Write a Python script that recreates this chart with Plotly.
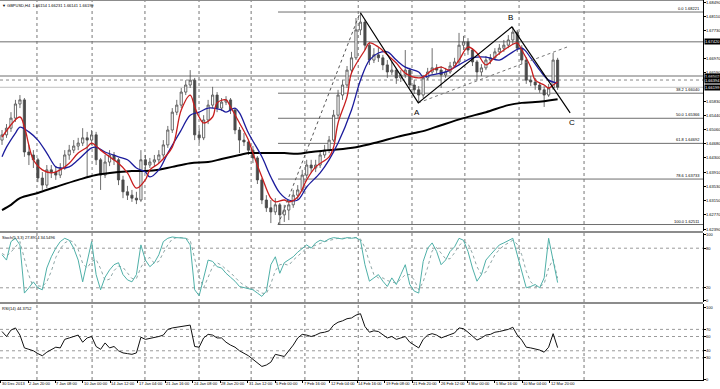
import plotly.graph_objects as go

# ---------------- data ----------------
opens = [1.6478,1.6492,1.6510,1.6537,1.6575,1.6586,1.6446,1.6438,1.6425,1.6376,
         1.6357,1.6398,1.6392,1.6384,1.6403,1.6438,1.6451,1.6462,1.6470,1.6484,
         1.6478,1.6492,1.6425,1.6384,1.6419,1.6438,1.6425,1.6371,1.6339,1.6330,
         1.6322,1.6317,1.6425,1.6411,1.6419,1.6425,1.6438,1.6465,1.6505,1.6553,
         1.6572,1.6607,1.6626,1.6639,1.6492,1.6484,1.6532,1.6572,1.6599,1.6564,
         1.6580,1.6586,1.6559,1.6505,1.6478,1.6473,1.6451,1.6430,1.6371,1.6317,
         1.6296,1.6285,1.6304,1.6277,1.6290,1.6304,1.6330,1.6344,1.6384,1.6411,
         1.6403,1.6411,1.6438,1.6451,1.6478,1.6545,1.6599,1.6626,1.6666,1.6699,
         1.6774,1.6795,1.6733,1.6693,1.6707,1.6699,1.6680,1.6661,1.6666,1.6645,
         1.6653,1.6666,1.6626,1.6613,1.6599,1.6645,1.6661,1.6672,1.6666,1.6653,
         1.6661,1.6677,1.6688,1.6733,1.6742,1.6720,1.6688,1.6661,1.6672,1.6693,
         1.6699,1.6715,1.6725,1.6733,1.6747,1.6768,1.6725,1.6693,1.6639,1.6634,
         1.6626,1.6613,1.6599,1.6618,1.6693]
highs = [1.6505,1.6521,1.6553,1.6586,1.6599,1.6591,1.6465,1.6451,1.6430,1.6392,
         1.6411,1.6411,1.6408,1.6416,1.6451,1.6465,1.6478,1.6484,1.6510,1.6500,
         1.6505,1.6500,1.6430,1.6438,1.6451,1.6446,1.6430,1.6382,1.6355,1.6344,
         1.6339,1.6451,1.6438,1.6430,1.6438,1.6451,1.6478,1.6516,1.6564,1.6586,
         1.6618,1.6639,1.6666,1.6645,1.6510,1.6545,1.6586,1.6621,1.6607,1.6591,
         1.6596,1.6591,1.6564,1.6513,1.6497,1.6478,1.6462,1.6435,1.6376,1.6330,
         1.6317,1.6322,1.6309,1.6304,1.6317,1.6344,1.6357,1.6398,1.6425,1.6425,
         1.6425,1.6451,1.6465,1.6489,1.6559,1.6613,1.6639,1.6677,1.6715,1.6806,
         1.6820,1.6801,1.6742,1.6725,1.6728,1.6707,1.6693,1.6688,1.6672,1.6666,
         1.6720,1.6672,1.6639,1.6623,1.6653,1.6672,1.6725,1.6682,1.6677,1.6672,
         1.6688,1.6699,1.6766,1.6758,1.6752,1.6725,1.6693,1.6682,1.6704,1.6709,
         1.6725,1.6736,1.6747,1.6760,1.6782,1.6774,1.6733,1.6701,1.6650,1.6645,
         1.6634,1.6623,1.6629,1.6712,1.6699]
lows = [1.6465,1.6484,1.6500,1.6527,1.6564,1.6433,1.6411,1.6403,1.6365,1.6344,
        1.6349,1.6376,1.6371,1.6376,1.6398,1.6425,1.6443,1.6451,1.6462,1.6379,
        1.6465,1.6411,1.6344,1.6376,1.6408,1.6411,1.6357,1.6322,1.6317,1.6312,
        1.6306,1.6312,1.6398,1.6403,1.6408,1.6416,1.6430,1.6457,1.6497,1.6545,
        1.6564,1.6599,1.6618,1.6478,1.6470,1.6478,1.6521,1.6564,1.6553,1.6556,
        1.6572,1.6548,1.6494,1.6443,1.6462,1.6438,1.6416,1.6360,1.6306,1.6285,
        1.6255,1.6277,1.6250,1.6258,1.6263,1.6296,1.6317,1.6339,1.6376,1.6390,
        1.6392,1.6403,1.6430,1.6443,1.6473,1.6537,1.6586,1.6618,1.6658,1.6693,
        1.6760,1.6720,1.6680,1.6685,1.6688,1.6666,1.6645,1.6653,1.6629,1.6634,
        1.6645,1.6618,1.6602,1.6578,1.6591,1.6639,1.6653,1.6656,1.6618,1.6645,
        1.6656,1.6672,1.6682,1.6720,1.6707,1.6677,1.6639,1.6650,1.6666,1.6682,
        1.6693,1.6707,1.6715,1.6725,1.6736,1.6715,1.6682,1.6629,1.6623,1.6613,
        1.6605,1.6567,1.6594,1.6613,1.6613]
closes = [1.6492,1.6510,1.6537,1.6575,1.6586,1.6446,1.6438,1.6425,1.6376,1.6357,
          1.6398,1.6392,1.6384,1.6403,1.6438,1.6451,1.6462,1.6470,1.6484,1.6478,
          1.6492,1.6425,1.6384,1.6419,1.6438,1.6425,1.6371,1.6339,1.6330,1.6322,
          1.6317,1.6425,1.6411,1.6419,1.6425,1.6438,1.6465,1.6505,1.6553,1.6572,
          1.6607,1.6626,1.6639,1.6492,1.6484,1.6532,1.6572,1.6599,1.6564,1.6580,
          1.6586,1.6559,1.6505,1.6478,1.6473,1.6451,1.6430,1.6371,1.6317,1.6296,
          1.6285,1.6304,1.6277,1.6290,1.6304,1.6330,1.6344,1.6384,1.6411,1.6403,
          1.6411,1.6438,1.6451,1.6478,1.6545,1.6599,1.6626,1.6666,1.6699,1.6774,
          1.6795,1.6733,1.6693,1.6707,1.6699,1.6680,1.6661,1.6666,1.6645,1.6653,
          1.6666,1.6626,1.6613,1.6599,1.6645,1.6661,1.6672,1.6666,1.6653,1.6661,
          1.6677,1.6688,1.6733,1.6742,1.6720,1.6688,1.6661,1.6672,1.6693,1.6699,
          1.6715,1.6725,1.6733,1.6747,1.6768,1.6725,1.6693,1.6639,1.6634,1.6626,
          1.6613,1.6599,1.6618,1.6693,1.66199]
bars = list(range(len(closes)))

ma_fast_x = [0,4,5,7,9,11,13,15,17,19,20,22,24,26,28,30,32,33,35,38,40,42,43,44,45,47,48,50,51,53,55,56,58,60,61,63,64,66,68,70,73,74,75,77,78,81,82,84,86,88,90,93,94,96,98,100,102,104,106,108,110,113,115,116,118,119,121,122,123,124]
ma_fast = [1.6486,1.6540,1.6513,1.6425,1.6398,1.6390,1.6398,1.6416,1.6443,1.6459,1.6470,1.6451,1.6433,1.6416,1.6390,1.6349,1.6371,1.6398,1.6416,1.6459,1.6559,1.6599,1.6567,1.6540,1.6524,1.6540,1.6578,1.6586,1.6567,1.6524,1.6478,1.6443,1.6379,1.6322,1.6312,1.6317,1.6312,1.6325,1.6371,1.6406,1.6433,1.6459,1.6524,1.6594,1.6658,1.6720,1.6739,1.6728,1.6707,1.6685,1.6658,1.6645,1.6648,1.6666,1.6674,1.6666,1.6693,1.6728,1.6712,1.6680,1.6701,1.6728,1.6739,1.6720,1.6674,1.6639,1.6626,1.6618,1.6626,1.6634]
ma_mid_x = [0,1,3,4,6,8,10,12,13,15,17,20,21,23,26,28,30,32,33,35,37,40,42,44,46,49,50,52,53,55,58,60,62,64,66,68,71,73,75,78,80,82,84,86,88,90,93,94,96,99,102,105,108,111,113,116,118,120,122,124]
ma_mid = [1.6433,1.6459,1.6497,1.6513,1.6500,1.6478,1.6443,1.6406,1.6403,1.6406,1.6425,1.6457,1.6459,1.6446,1.6433,1.6425,1.6403,1.6392,1.6379,1.6398,1.6443,1.6505,1.6545,1.6553,1.6564,1.6559,1.6553,1.6564,1.6551,1.6497,1.6433,1.6379,1.6336,1.6317,1.6317,1.6352,1.6390,1.6425,1.6470,1.6559,1.6639,1.6693,1.6712,1.6715,1.6693,1.6674,1.6661,1.6648,1.6653,1.6661,1.6680,1.6699,1.6701,1.6693,1.6707,1.6725,1.6699,1.6666,1.6639,1.6631]
ma_slow_x = [0,2,4,8,12,17,21,26,29,32,35,38,42,46,49,53,55,58,60,63,66,69,73,79,84,88,92,94,98,103,108,113,116,119,124]
ma_slow = [1.6290,1.6304,1.6322,1.6336,1.6352,1.6371,1.6384,1.6392,1.6395,1.6395,1.6398,1.6406,1.6416,1.6419,1.6427,1.6438,1.6443,1.6443,1.6443,1.6443,1.6441,1.6446,1.6451,1.6459,1.6473,1.6486,1.6497,1.6502,1.6518,1.6537,1.6553,1.6572,1.6578,1.6580,1.6588]

stoch_main = [70,62,90,95,85,12,20,29,20,17,50,67,80,90,95,92,80,62,29,60,
              90,40,17,36,47,55,58,40,32,29,40,85,62,52,58,70,90,95,97,96,
              95,95,85,17,8,35,62,60,52,50,42,36,30,22,20,18,17,12,7,15,
              55,67,42,58,62,67,74,80,85,80,88,92,90,94,96,95,94,96,95,96,
              92,55,30,35,40,30,22,35,25,40,55,25,15,12,60,80,88,75,55,62,
              75,82,95,92,75,50,30,40,62,70,78,85,88,92,95,70,45,20,22,25,
              20,35,95,60,27.8914]
stoch_signal = [72,68,74,82,90,64,39,20,23,22,29,45,66,79,88,92,89,78,57,50,
                60,63,49,31,33,46,53,51,43,34,34,51,62,66,57,60,73,85,94,96,
                96,95,92,66,37,20,35,52,58,54,48,43,36,29,24,20,18,16,12,11,
                26,46,55,56,54,62,68,74,80,82,84,87,90,92,93,95,95,95,95,96,
                94,81,59,40,35,35,31,29,27,33,40,40,32,17,29,51,76,81,73,64,
                64,73,84,90,87,72,52,40,44,57,70,78,84,88,92,86,70,45,29,22,
                22,26,50,63,34.5496]
rsi = [67,60,69,72,62,44,42,40,36,33,38,42,45,44,56,58,60,62,52,58,
       60,46,42,51,44,46,40,37,36,35,37,59,56,57,58,60,62,70,72,73,
       74,75,76,46,45,58,63,62,58,58,52,48,45,40,37,33,28,23,18,20,
       24,35,33,32,40,48,58,63,62,60,62,65,66,68,76,80,82,85,86,90,
       92,74,66,68,67,62,58,60,56,58,60,52,48,44,56,62,64,62,58,60,
       63,65,72,71,66,60,55,58,62,63,66,67,68,70,73,62,55,45,44,43,
       41,38,45,64,44.3752]

price_ticks = [1.68490,1.68110,1.67730,1.66970,1.66590,1.65830,1.65440,
               1.65060,1.64680,1.64300,1.63910,1.63530,1.63150,1.62770,1.62390]
stoch_ticks = [100, 80, 20, 0]
rsi_ticks = [100, 70, 60, 40, 30, 0]
time_labels = ["30 Dec 2013","2 Jan 20:00","7 Jan 08:00","10 Jan 00:00","14 Jan 12:00",
               "17 Jan 04:00","21 Jan 16:00","24 Jan 08:00","28 Jan 20:00","31 Jan 12:00",
               "5 Feb 00:00","7 Feb 16:00","12 Feb 04:00","14 Feb 16:00","19 Feb 08:00",
               "21 Feb 20:00","26 Feb 12:00","3 Mar 00:00","5 Mar 16:00","10 Mar 04:00",
               "12 Mar 20:00"]
time_label_bars = [-0.33, 5.80, 11.92, 18.05, 24.18, 30.30, 36.43, 42.56, 48.69, 54.81,
                   60.94, 67.07, 73.19, 79.32, 85.45, 91.57, 97.70, 103.83, 109.96, 116.08,
                   122.21]
grid_bars = [7.8, 20.1, 31.9, 43.97, 55.6, 67.6, 79.5, 91.5, 103.3, 115.4, 129.9]

fib_names = ["0.0","38.2","50.0","61.8","78.6","100.0"]
fib_prices = [1.68221,1.66040,1.65366,1.64692,1.63733,1.62511]
fib_start_bar = 61.6
hline_solid = [1.67420, 1.66502]
hline_dotted = [1.66394]
bid_price = 1.66199

zz_bars = [80, 92.9, 113.8, 126.8]
zz_prices = [1.6820, 1.6578, 1.6782, 1.6551]
zz_names = ["", "A", "B", "C"]
chan_bars = [92.9, 126.1]
chan_prices = [1.6578, 1.6728]
fibdiag_bars = [61.6, 79.9]
fibdiag_prices = [1.6250, 1.6820]

stoch_levels = [80, 20]
rsi_levels = [70, 60, 40, 30]

# ---------------- figure ----------------
FONT = "Liberation Sans"
FS = 4
fig = go.Figure()

fig.add_trace(go.Candlestick(
    x=bars, open=opens, high=highs, low=lows, close=closes,
    increasing=dict(line=dict(color="#4a4a4a", width=0.8), fillcolor="#ffffff"),
    decreasing=dict(line=dict(color="#4a4a4a", width=0.8), fillcolor="#4a4a4a"),
    whiskerwidth=0, xaxis="x", yaxis="y", showlegend=False, hoverinfo="skip"))

fig.add_trace(go.Scatter(x=ma_slow_x, y=ma_slow, mode="lines", line=dict(color="#000000", width=2, shape="spline"),
                         xaxis="x", yaxis="y", showlegend=False))
fig.add_trace(go.Scatter(x=ma_mid_x, y=ma_mid, mode="lines", line=dict(color="#1c1c9c", width=1.3, shape="spline"),
                         xaxis="x", yaxis="y", showlegend=False))
fig.add_trace(go.Scatter(x=ma_fast_x, y=ma_fast, mode="lines", line=dict(color="#c81e1e", width=1.3, shape="spline"),
                         xaxis="x", yaxis="y", showlegend=False))

fig.add_trace(go.Scatter(x=fibdiag_bars, y=fibdiag_prices, mode="lines", line=dict(color="#555555", width=1, dash="dot"),
                         xaxis="x", yaxis="y", showlegend=False))
fig.add_trace(go.Scatter(x=chan_bars, y=chan_prices, mode="lines", line=dict(color="#777777", width=1, dash="dot"),
                         xaxis="x", yaxis="y", showlegend=False))
fig.add_trace(go.Scatter(x=zz_bars, y=zz_prices, mode="lines", line=dict(color="#000000", width=1.2),
                         xaxis="x", yaxis="y", showlegend=False))

fig.add_trace(go.Scatter(x=bars, y=stoch_signal, mode="lines", line=dict(color="#8fa6a6", width=1, dash="dot"),
                         xaxis="x", yaxis="y2", showlegend=False))
fig.add_trace(go.Scatter(x=bars, y=stoch_main, mode="lines", line=dict(color="#4fb0a8", width=1),
                         xaxis="x", yaxis="y2", showlegend=False))
fig.add_trace(go.Scatter(x=bars, y=rsi, mode="lines", line=dict(color="#111111", width=1),
                         xaxis="x", yaxis="y3", showlegend=False))

shapes = []
for b in grid_bars:
    shapes.append(dict(type="line", xref="x", yref="paper", x0=b, x1=b, y0=0, y1=1,
                       line=dict(color="#777777", width=1, dash="dot"), layer="below"))
for p in hline_solid:
    shapes.append(dict(type="line", xref="paper", yref="y", x0=0, x1=1, y0=p, y1=p,
                       line=dict(color="#6e6e6e", width=1), layer="below"))
for p in hline_dotted:
    shapes.append(dict(type="line", xref="paper", yref="y", x0=0, x1=1, y0=p, y1=p,
                       line=dict(color="#8a8a8a", width=1, dash="dot"), layer="below"))
shapes.append(dict(type="line", xref="paper", yref="y", x0=0, x1=1, y0=bid_price, y1=bid_price,
                   line=dict(color="#c0c0c0", width=1), layer="below"))
for p in fib_prices:
    shapes.append(dict(type="line", xref="x", yref="y", x0=fib_start_bar, x1=156.45, y0=p, y1=p,
                       line=dict(color="#6e6e6e", width=1), layer="below"))
for lv in stoch_levels:
    shapes.append(dict(type="line", xref="paper", yref="y2", x0=0, x1=1, y0=lv, y1=lv,
                       line=dict(color="#9a9a9a", width=1, dash="dot"), layer="below"))
for lv in rsi_levels:
    shapes.append(dict(type="line", xref="paper", yref="y3", x0=0, x1=1, y0=lv, y1=lv,
                       line=dict(color="#9a9a9a", width=1, dash="dot"), layer="below"))
for yp in [0.3895, 0.2026]:
    shapes.append(dict(type="line", xref="paper", yref="paper", x0=0, x1=1.0, y0=yp, y1=yp,
                       line=dict(color="#8c8c8c", width=2)))
shapes.append(dict(type="line", xref="paper", yref="paper", x0=0, x1=1, y0=1, y1=1,
                   line=dict(color="#8c8c8c", width=2)))

ann = []
def txt(**kw):
    base = dict(showarrow=False, borderpad=0, font=dict(family=FONT, size=FS, color="#000"))
    base.update(kw)
    ann.append(base)

txt(xref="paper", yref="paper", x=0.002, y=1, xanchor="left", yanchor="top", yshift=-2,
    text="▼ GBPUSD,H4  1.66154 1.66231 1.66141 1.66199")
txt(xref="paper", yref="paper", x=0.002, y=0.3868, xanchor="left", yanchor="top", yshift=-1,
    text="Stoch(5,3,3) 27.8914 34.5496")
txt(xref="paper", yref="paper", x=0.002, y=0.2, xanchor="left", yanchor="top", yshift=-1,
    text="RSI(14) 44.3752")
for t, b in zip(time_labels, time_label_bars):
    txt(xref="x", yref="paper", x=b, y=0, xanchor="left", yanchor="top", yshift=0, xshift=0, text=t)
for n, p in zip(fib_names, fib_prices):
    txt(xref="paper", yref="y", x=1, y=p, xanchor="right", yanchor="bottom", xshift=-2,
        text=f"{n} {p:.5f}")
for n, b, p in zip(zz_names, zz_bars, zz_prices):
    if n:
        ys = 9 if n == "B" else -10
        txt(xref="x", yref="y", x=b, y=p, text=n, yshift=ys, xshift=(2 if n == "C" else -1),
            font=dict(family=FONT, size=8, color="#000"))
for v in price_ticks:
    txt(xref="paper", yref="y", x=1, y=v, xanchor="left", yanchor="middle", xshift=2, text=f"{v:.5f}")
for v in stoch_ticks:
    txt(xref="paper", yref="y2", x=1, y=v, xanchor="left", yanchor="middle", xshift=2, text=str(v))
for v in rsi_ticks:
    txt(xref="paper", yref="y3", x=1, y=v, xanchor="left", yanchor="middle", xshift=2, text=str(v))
for p in hline_solid + hline_dotted + [bid_price]:
    txt(xref="paper", yref="y", x=1, y=p, xanchor="left", yanchor="middle", xshift=1,
        text=f"{p:.5f}", bgcolor="#000000", font=dict(family=FONT, size=FS, color="#ffffff"))

axis_common = dict(showgrid=False, zeroline=False, showline=True, linecolor="#000000", linewidth=1,
                   side="right", anchor="x", ticks="outside", ticklen=2, tickcolor="#000",
                   showticklabels=False)

fig.update_layout(
    width=720, height=389,
    margin=dict(l=0, r=17, t=0, b=9),
    paper_bgcolor="#ffffff", plot_bgcolor="#ffffff",
    showlegend=False,
    xaxis=dict(domain=[0, 1], range=[-0.45, 156.45], anchor="y3", showgrid=False, zeroline=False,
               showline=True, linecolor="#000", linewidth=1, tickvals=time_label_bars,
               ticks="outside", ticklen=2, tickcolor="#000", showticklabels=False,
               rangeslider=dict(visible=False)),
    yaxis=dict(domain=[0.3921, 1], range=[1.62337, 1.68544], tickvals=price_ticks, **axis_common),
    yaxis2=dict(domain=[0.2053, 0.3868], range=[-1.5, 103], tickvals=stoch_ticks, **axis_common),
    yaxis3=dict(domain=[0, 0.2], range=[-1, 105.6], tickvals=rsi_ticks, **axis_common),
    shapes=shapes, annotations=ann,
)

fig.write_html("out.html", config={"displayModeBar": False, "staticPlot": True},
               post_script="document.body.style.margin='0';document.body.style.overflow='hidden';")
